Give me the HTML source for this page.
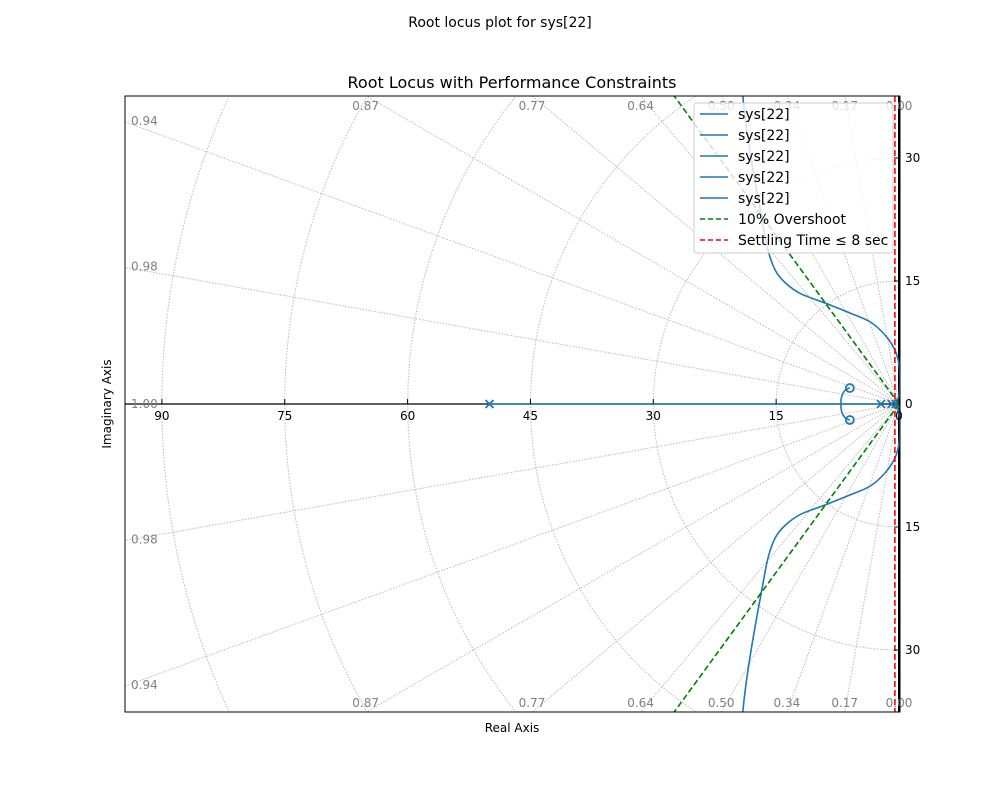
<!DOCTYPE html>
<html><head><meta charset="utf-8"><style>
html,body{margin:0;background:#fff;overflow:hidden;width:1000px;height:800px;}
svg{display:block;}
svg text{font-family:"DejaVu Sans","Liberation Sans",sans-serif;}
</style></head><body>
<svg id="fig" width="1000" height="800" xmlns="http://www.w3.org/2000/svg">
<defs><clipPath id="clip"><rect x="125" y="96" width="775" height="616"/></clipPath></defs>
<rect width="1000" height="800" fill="#fff"/>
<text x="500" y="27" font-size="14" text-anchor="middle">Root locus plot for sys[22]</text>
<text x="512" y="88" font-size="16" text-anchor="middle">Root Locus with Performance Constraints</text>
<text x="512" y="732" font-size="12" text-anchor="middle">Real Axis</text>
<text x="111" y="404" font-size="12" text-anchor="middle" transform="rotate(-90 111 404)">Imaginary Axis</text>
<g id="grid" clip-path="url(#clip)"></g>
<g id="plot" clip-path="url(#clip)"></g>
<g id="labels"></g>
<rect x="125" y="96" width="775" height="616" fill="none" stroke="#000" stroke-width="1"/>
<g id="legend"></g>
</svg>
<script>
const NS="http://www.w3.org/2000/svg";
const realTicks=[90,75,60,45,30,15,0];
const omegaTicks=[15,30];
const wnCircles=[15,30,45,60,75,90];
const zetaLabels=["0.00","0.17","0.34","0.50","0.64","0.77","0.87","0.94","0.98","1.00"];
const upperRe=[-0.4,0,0.1,0,-0.5,-1.7,-3.5,-6,-9,-12.1,-13.9,-15.1,-16,-16.7,-17.6,-18.4,-18.9,-19.2];
const upperIm=[0,1.1,2.9,4.8,6.6,8.4,10,11.1,12.3,13.5,14.8,16.3,18.8,22.4,27.3,32.2,35.9,39];
const loopRe=[-7.1,-7.05,-6.85,-6.5,-6.0];
const loopIm=[0,0.7,1.3,1.75,1.95];
const realSegRe=[-50,-2.2];
const polesRe=[-50,-2.2,-0.9,-0.4];
const zerosRe=[-6,-6];const zerosIm=[1.95,-1.95];
const overshootZeta=0.59;
const settlingSigma=-0.5;
const X=v=>899+v*8.19, Y=v=>404-v*8.2;
function el(t,a,p){const e=document.createElementNS(NS,t);for(const k in a)e.setAttribute(k,a[k]);p.appendChild(e);return e;}
const grid=document.getElementById('grid'),plot=document.getElementById('plot'),lab=document.getElementById('labels'),leg=document.getElementById('legend');
wnCircles.forEach(r=>{const c=el('path',{d:`M${X(0)} ${Y(r)} A${r*8.19} ${r*8.2} 0 0 0 ${X(0)} ${Y(-r)}`,fill:'none',stroke:'#bbb','stroke-dasharray':'1.5,1.5','stroke-width':1},grid);
});
zetaLabels.forEach((z,i)=>{const a=i*10*Math.PI/180;const dx=-Math.sin(a),dy=Math.cos(a);
 [1,-1].forEach(s=>{const l=el('line',{x1:X(0),y1:Y(0),x2:X(200*dx),y2:Y(s*200*dy),stroke:'#bbb','stroke-dasharray':'1.5,1.5'},grid);
 
 if(i==9&&s<0)return;
 let px,py;
 if(i>=7){px=131;py=(i==9)?404:Y(s*94.5/Math.tan(a))-1;}
 else{px=(i==0)?899:X(-37.6*Math.tan(a));py=s>0?106:703;}
 const t=el('text',{x:px,y:py+4,'font-size':12,fill:'#808080','text-anchor':i>=7?'start':'middle'},lab);t.textContent=z;
 });});
let ax=el('line',{x1:125,y1:404,x2:900,y2:404,stroke:'#000','stroke-width':1.2},plot);
ax=el('line',{x1:899,y1:96,x2:899,y2:712,stroke:'#000','stroke-width':2},plot);
realTicks.forEach(v=>{el('line',{x1:X(-v),y1:404,x2:X(-v),y2:399,stroke:'#000'},lab);const t=el('text',{x:X(-v),y:420,'font-size':12,'text-anchor':'middle'},lab);t.textContent=v;
});
const t0=el('text',{x:905,y:408,'font-size':12},lab);t0.textContent='0';
omegaTicks.forEach(v=>[1,-1].forEach(s=>{el('line',{x1:899,y1:Y(s*v),x2:894,y2:Y(s*v),stroke:'#000'},lab);const t=el('text',{x:905,y:Y(s*v)+4,'font-size':12},lab);t.textContent=v;
}));
const blue='#1f77b4';
function line(re,im,s,name){const P=re.map((r,i)=>[X(r),Y(s*im[i])]);let d='M'+P[0][0]+' '+P[0][1];
 for(let i=0;i<P.length-1;i++){const p0=P[Math.max(0,i-1)],p1=P[i],p2=P[i+1],p3=P[Math.min(P.length-1,i+2)];
 d+=`C${p1[0]+(p2[0]-p0[0])/6} ${p1[1]+(p2[1]-p0[1])/6} ${p2[0]-(p3[0]-p1[0])/6} ${p2[1]-(p3[1]-p1[1])/6} ${p2[0]} ${p2[1]}`;}
 const p=el('path',{d,fill:'none',stroke:blue,'stroke-width':1.6},plot);
 }
line(upperRe,upperIm,1,'locus-branch-upper');line(upperRe,upperIm,-1,'locus-branch-lower');
line(loopRe,loopIm,1,'locus-loop-upper');line(loopRe,loopIm,-1,'locus-loop-lower');
line(realSegRe,[0,0],1,'locus-real-segment');
const k=Math.sqrt(1-overshootZeta**2)/overshootZeta;
[1,-1].forEach(s=>{const g=el('line',{x1:X(0),y1:Y(0),x2:X(-40),y2:Y(s*40*k),stroke:'green','stroke-width':1.6,'stroke-dasharray':'6,3'},plot);
});
const r=el('line',{x1:X(settlingSigma),y1:96,x2:X(settlingSigma),y2:712,stroke:'red','stroke-width':1.6,'stroke-dasharray':'6,3'},plot);

polesRe.forEach(p=>{const x=X(p),y=Y(0);const m=el('path',{d:`M${x-4} ${y-4}L${x+4} ${y+4}M${x-4} ${y+4}L${x+4} ${y-4}`,stroke:blue,'stroke-width':1.8},plot);
});
zerosRe.forEach((z,i)=>{const m=el('circle',{cx:X(z),cy:Y(zerosIm[i]),r:4,fill:'none',stroke:blue,'stroke-width':1.8},plot);
});
const lb=el('rect',{x:694,y:103,width:199,height:150,rx:3,fill:'#fff','fill-opacity':0.8,stroke:'#ccc'},leg);
const entries=[['sys[22]',blue,''],['sys[22]',blue,''],['sys[22]',blue,''],['sys[22]',blue,''],['sys[22]',blue,''],['10% Overshoot','green','5,3'],['Settling Time ≤ 8 sec','red','5,3']];
entries.forEach((e,i)=>{const y=114+i*21;el('line',{x1:700,y1:y,x2:728,y2:y,stroke:e[1],'stroke-width':1.6,'stroke-dasharray':e[2]||'none'},leg);
const t=el('text',{x:738,y:y+5,'font-size':14},leg);t.textContent=e[0];});
</script>
</body></html>
